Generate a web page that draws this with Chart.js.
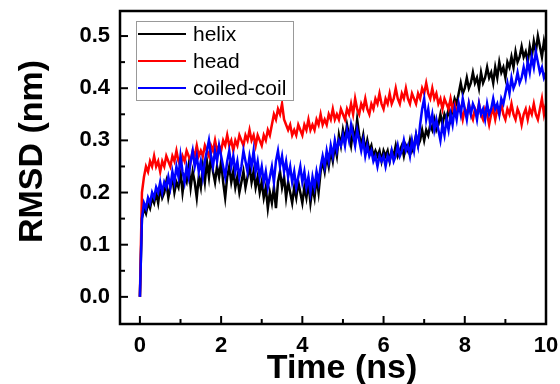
<!DOCTYPE html>
<html>
<head>
<meta charset="utf-8">
<script src="https://cdn.jsdelivr.net/npm/chart.js@4/dist/chart.umd.min.js"></script>
<style>
    body { margin: 0; background: #fff; }
</style>
</head>
<body>
<canvas id="rmsdChart" width="560" height="384"></canvas>
<script>
// RMSD traces, one value every 0.05 ns from 0 to 10 ns
const timeStep = 0.05;
const helix = [
    0.00, 0.15, 0.17, 0.16, 0.18, 0.17, 0.19, 0.18, 0.20, 0.18, 0.21, 0.19, 0.20, 0.22, 0.19, 0.21, 0.23, 0.20, 0.22, 0.21,
    0.24, 0.20, 0.23, 0.22, 0.25, 0.21, 0.24, 0.22, 0.19, 0.23, 0.21, 0.25, 0.22, 0.26, 0.23, 0.27, 0.24, 0.22, 0.25, 0.23,
    0.26, 0.22, 0.19, 0.23, 0.25, 0.22, 0.24, 0.21, 0.23, 0.20, 0.22, 0.24, 0.21, 0.23, 0.25, 0.22, 0.24, 0.21, 0.23, 0.20,
    0.22, 0.19, 0.21, 0.17, 0.20, 0.18, 0.21, 0.17, 0.22, 0.24, 0.21, 0.23, 0.19, 0.22, 0.20, 0.18, 0.21, 0.19, 0.22, 0.20,
    0.18, 0.21, 0.19, 0.22, 0.18, 0.21, 0.19, 0.23, 0.20, 0.24, 0.26, 0.24, 0.27, 0.25, 0.28, 0.26, 0.29, 0.27, 0.31, 0.29,
    0.32, 0.30, 0.33, 0.31, 0.29, 0.32, 0.30, 0.34, 0.31, 0.29, 0.31, 0.28, 0.30, 0.28, 0.29, 0.27, 0.28, 0.27, 0.28, 0.26,
    0.28, 0.27, 0.28, 0.26, 0.28, 0.27, 0.29, 0.27, 0.28, 0.29, 0.27, 0.29, 0.28, 0.30, 0.28, 0.29, 0.31, 0.29, 0.30, 0.32,
    0.30, 0.32, 0.31, 0.33, 0.32, 0.34, 0.32, 0.33, 0.35, 0.33, 0.35, 0.34, 0.36, 0.34, 0.36, 0.38, 0.37, 0.39, 0.41, 0.39,
    0.40, 0.42, 0.40, 0.41, 0.43, 0.41, 0.42, 0.40, 0.43, 0.41, 0.42, 0.44, 0.42, 0.43, 0.41, 0.44, 0.42, 0.45, 0.43, 0.44,
    0.42, 0.45, 0.44, 0.46, 0.44, 0.47, 0.45, 0.46, 0.48, 0.46, 0.47, 0.45, 0.48, 0.46, 0.49, 0.47, 0.50, 0.48, 0.46, 0.49,
    0.47
];
const head = [
    0.00, 0.20, 0.23, 0.25, 0.24, 0.26, 0.25, 0.27, 0.25, 0.26, 0.24, 0.26, 0.25, 0.27, 0.26, 0.25, 0.27, 0.26, 0.28, 0.26,
    0.25, 0.27, 0.26, 0.28, 0.27, 0.26, 0.28, 0.27, 0.29, 0.27, 0.28, 0.27, 0.29, 0.28, 0.27, 0.29, 0.28, 0.30, 0.28, 0.29,
    0.28, 0.30, 0.29, 0.31, 0.29, 0.30, 0.28, 0.30, 0.29, 0.31, 0.30, 0.29, 0.31, 0.30, 0.32, 0.30, 0.31, 0.29, 0.31, 0.30,
    0.29, 0.31, 0.30, 0.32, 0.31, 0.33, 0.35, 0.34, 0.36, 0.35, 0.37, 0.34, 0.33, 0.32, 0.33, 0.31, 0.32, 0.31, 0.33, 0.32,
    0.31, 0.33, 0.32, 0.34, 0.32, 0.33, 0.32, 0.34, 0.33, 0.35, 0.33, 0.34, 0.33, 0.35, 0.34, 0.36, 0.34, 0.35, 0.34, 0.36,
    0.35, 0.34, 0.36, 0.35, 0.37, 0.35, 0.38, 0.36, 0.35, 0.37, 0.36, 0.38, 0.36, 0.35, 0.37, 0.36, 0.38, 0.37, 0.39, 0.37,
    0.36, 0.38, 0.37, 0.39, 0.37, 0.38, 0.40, 0.38, 0.37, 0.39, 0.38, 0.40, 0.38, 0.37, 0.39, 0.38, 0.37, 0.39, 0.38, 0.40,
    0.39, 0.41, 0.39, 0.38, 0.40, 0.38, 0.39, 0.37, 0.38, 0.36, 0.38, 0.37, 0.36, 0.38, 0.36, 0.37, 0.35, 0.37, 0.36, 0.34,
    0.36, 0.35, 0.37, 0.35, 0.34, 0.36, 0.35, 0.37, 0.35, 0.34, 0.36, 0.35, 0.33, 0.35, 0.36, 0.34, 0.36, 0.35, 0.37, 0.35,
    0.34, 0.36, 0.35, 0.37, 0.35, 0.34, 0.36, 0.35, 0.33, 0.35, 0.36, 0.34, 0.36, 0.35, 0.37, 0.35, 0.34, 0.36, 0.38, 0.35,
    0.37
];
const coiledCoil = [
    0.00, 0.15, 0.18, 0.17, 0.19, 0.18, 0.20, 0.19, 0.21, 0.20, 0.22, 0.20, 0.22, 0.21, 0.23, 0.21, 0.24, 0.22, 0.25, 0.23,
    0.27, 0.24, 0.22, 0.25, 0.23, 0.26, 0.28, 0.25, 0.27, 0.24, 0.26, 0.23, 0.26, 0.28, 0.30, 0.27, 0.25, 0.28, 0.26, 0.29,
    0.27, 0.25, 0.23, 0.26, 0.28, 0.25, 0.27, 0.24, 0.26, 0.23, 0.25, 0.28, 0.26, 0.24, 0.27, 0.25, 0.28, 0.24, 0.26, 0.23,
    0.25, 0.22, 0.24, 0.21, 0.23, 0.25, 0.22, 0.26, 0.28, 0.25, 0.27, 0.24, 0.26, 0.23, 0.25, 0.22, 0.24, 0.21, 0.23, 0.25,
    0.22, 0.24, 0.21, 0.23, 0.20, 0.23, 0.21, 0.24, 0.22, 0.25, 0.27, 0.25, 0.28, 0.26, 0.29, 0.27, 0.30, 0.28, 0.30, 0.29,
    0.31, 0.29, 0.32, 0.30, 0.33, 0.31, 0.29, 0.32, 0.30, 0.28, 0.30, 0.27, 0.29, 0.27, 0.28, 0.26, 0.27, 0.25, 0.27, 0.26,
    0.27, 0.25, 0.27, 0.26, 0.28, 0.26, 0.27, 0.29, 0.27, 0.28, 0.30, 0.28, 0.29, 0.27, 0.30, 0.28, 0.31, 0.29, 0.33, 0.36,
    0.38, 0.34, 0.36, 0.33, 0.35, 0.32, 0.34, 0.32, 0.30, 0.33, 0.31, 0.34, 0.32, 0.35, 0.33, 0.36, 0.34, 0.37, 0.35, 0.38,
    0.36, 0.34, 0.37, 0.35, 0.37, 0.36, 0.34, 0.37, 0.35, 0.36, 0.34, 0.37, 0.35, 0.36, 0.38, 0.36, 0.37, 0.35, 0.38, 0.37,
    0.39, 0.41, 0.39, 0.42, 0.40, 0.41, 0.43, 0.41, 0.42, 0.44, 0.42, 0.45, 0.43, 0.46, 0.44, 0.47, 0.45, 0.43, 0.44, 0.42,
    0.43
];

const xTicks = [0, 2, 4, 6, 8, 10];
const xMinorTicks = [1, 3, 5, 7, 9];
const yTicks = [0.0, 0.1, 0.2, 0.3, 0.4, 0.5];
const yMinorTicks = [0.05, 0.15, 0.25, 0.35, 0.45];
const xTitle = 'Time (ns)';
const yTitle = 'RMSD (nm)';

const toPoints = (values) => values.map((v, i) => ({ x: i * timeStep, y: v }));

const fontFamily = '"Liberation Sans", Arial, sans-serif';
Chart.defaults.font.family = fontFamily;
Chart.defaults.color = '#000';

// inward tick marks, closed frame and the two axis titles
const frameTicks = {
    id: 'frameTicks',
    afterDraw(chart) {
        const { ctx, chartArea: a, scales: { x, y } } = chart;
        ctx.save();
        ctx.strokeStyle = '#000';
        ctx.lineWidth = 2;
        const tick = (px, py, dx, dy) => {
            ctx.beginPath();
            ctx.moveTo(px, py);
            ctx.lineTo(px + dx, py + dy);
            ctx.stroke();
        };
        xTicks.forEach(v => tick(x.getPixelForValue(v), a.bottom, 0, -8));
        xMinorTicks.forEach(v => tick(x.getPixelForValue(v), a.bottom, 0, -5));
        yTicks.forEach(v => tick(a.left, y.getPixelForValue(v), 8, 0));
        yMinorTicks.forEach(v => tick(a.left, y.getPixelForValue(v), 5, 0));
        ctx.lineWidth = 2.5;
        ctx.strokeRect(a.left, a.top, a.right - a.left, a.bottom - a.top);

        ctx.fillStyle = '#000';
        ctx.font = 'bold 34px ' + fontFamily;
        ctx.textAlign = 'center';
        ctx.textBaseline = 'alphabetic';
        ctx.fillText(xTitle, (a.left + a.right) / 2 + 9, 378);
        ctx.translate(42, (a.top + a.bottom) / 2 - 16);
        ctx.rotate(-Math.PI / 2);
        ctx.fillText(yTitle, 0, 0);
        ctx.restore();
    }
};

// legend box drawn inside the plot area
const insideLegend = {
    id: 'insideLegend',
    afterDraw(chart) {
        const { ctx, chartArea: a } = chart;
        const left = a.left + 16, top = a.top + 10;
        ctx.save();
        ctx.fillStyle = '#fff';
        ctx.fillRect(left, top, 157, 79);
        ctx.strokeStyle = '#999';
        ctx.lineWidth = 1;
        ctx.strokeRect(left + 0.5, top + 0.5, 157, 79);
        ctx.font = '21px ' + fontFamily;
        ctx.textBaseline = 'middle';
        chart.data.datasets.forEach((ds, i) => {
            const yy = top + 13 + i * 27;
            ctx.strokeStyle = ds.borderColor;
            ctx.lineWidth = 2;
            ctx.beginPath();
            ctx.moveTo(left + 2, yy);
            ctx.lineTo(left + 50, yy);
            ctx.stroke();
            ctx.fillStyle = '#000';
            ctx.fillText(ds.label, left + 57, yy + 1);
        });
        ctx.restore();
    }
};

new Chart(document.getElementById('rmsdChart'), {
    type: 'line',
    data: {
        datasets: [
            { label: 'helix', data: toPoints(helix), borderColor: '#000000', order: 3 },
            { label: 'head', data: toPoints(head), borderColor: '#ff0000', order: 2 },
            { label: 'coiled-coil', data: toPoints(coiledCoil), borderColor: '#0000ff', order: 1 }
        ]
    },
    options: {
        responsive: false,
        animation: false,
        events: [],
        layout: { padding: { top: 11, right: 14, left: 0, bottom: 0 } },
        elements: {
            point: { radius: 0 },
            line: { borderWidth: 2.5, tension: 0 }
        },
        plugins: {
            legend: { display: false },
            tooltip: { enabled: false }
        },
        scales: {
            x: {
                type: 'linear',
                min: -0.49,
                max: 10,
                afterBuildTicks: (scale) => { scale.ticks = xTicks.map(v => ({ value: v })); },
                afterFit: (scale) => {
                    scale.height = 60;
                    scale.paddingLeft = 0;
                    scale.paddingRight = 0;
                },
                grid: { display: false, drawTicks: false },
                border: { display: false },
                ticks: {
                    padding: 9,
                    maxRotation: 0,
                    font: { size: 22, weight: 'bold' },
                    callback: (v) => String(v)
                }
            },
            y: {
                min: -0.052,
                max: 0.548,
                afterBuildTicks: (scale) => { scale.ticks = yTicks.map(v => ({ value: v })); },
                afterFit: (scale) => {
                    scale.width = 120;
                    scale.paddingTop = 0;
                    scale.paddingBottom = 0;
                },
                grid: { display: false, drawTicks: false },
                border: { display: false },
                ticks: {
                    padding: 10,
                    font: { size: 22, weight: 'bold' },
                    callback: (v) => v.toFixed(1)
                }
            }
        }
    },
    plugins: [frameTicks, insideLegend]
});
</script>
</body>
</html>
